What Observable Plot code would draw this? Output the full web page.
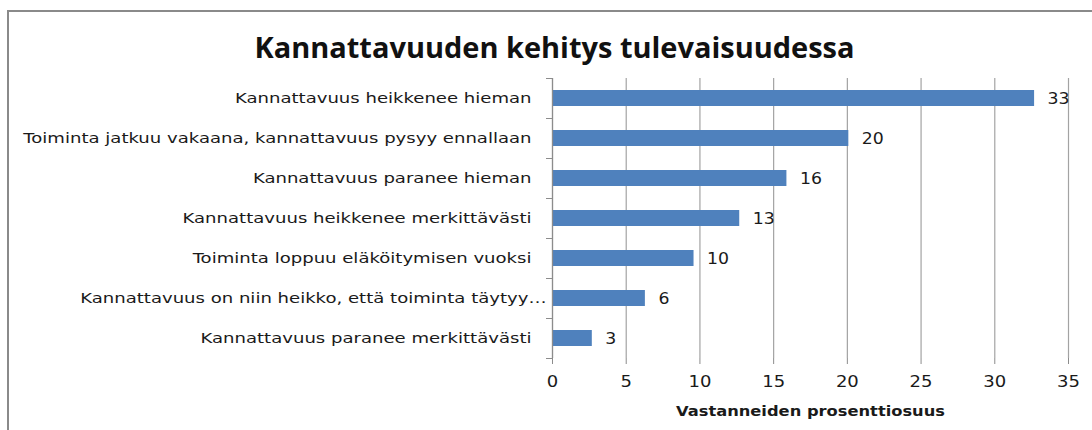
<!DOCTYPE html>
<html>
<head>
<meta charset="utf-8">
<script src="https://cdn.jsdelivr.net/npm/d3@7"></script>
<script src="https://cdn.jsdelivr.net/npm/@observablehq/plot@0.6"></script>
<style>
  html, body { margin: 0; padding: 0; background: #fff; }
  #wrap { position: relative; width: 1092px; height: 430px; overflow: hidden; background: #fff; }
  #frame { position: absolute; left: 7px; top: 10px; width: 1100px; height: 440px;
           border-top: 2px solid #8a8a8a; border-left: 2px solid #8a8a8a; box-sizing: border-box; }
  #chart { position: absolute; left: 0; top: 0; }
</style>
</head>
<body>
<div id="wrap">
  <div id="frame"></div>
  <div id="chart"></div>
</div>
<script>
const title = "Kannattavuuden kehitys tulevaisuudessa";
const categories = [
  "Kannattavuus heikkenee hieman",
  "Toiminta jatkuu vakaana, kannattavuus pysyy ennallaan",
  "Kannattavuus paranee hieman",
  "Kannattavuus heikkenee merkittävästi",
  "Toiminta loppuu eläköitymisen vuoksi",
  "Kannattavuus on niin heikko, että toiminta täytyy…",
  "Kannattavuus paranee merkittävästi"
];
const values = [32.7, 20.1, 15.9, 12.7, 9.6, 6.3, 2.7];
const xTicks = [0, 5, 10, 15, 20, 25, 30, 35];
const xLabel = "Vastanneiden prosenttiosuus";

const data = categories.map((c, i) => ({category: c, value: values[i]}));

const W = 1092, H = 430, mt = 78, mb = 72, ml = 552, mr = 24;
const step = (H - mt - mb) / categories.length;
const font = "DejaVu Sans, sans-serif";
const fmt = d3.format(".0f");

const chart = Plot.plot({
  width: W, height: H,
  marginTop: mt, marginBottom: mb, marginLeft: ml, marginRight: mr,
  style: {fontFamily: font, fontSize: "14px", color: "#1a1a1a", background: "transparent", overflow: "visible"},
  x: {domain: [0, 35]},
  y: {domain: categories, paddingInner: 0.61, paddingOuter: 0.305},
  marks: [
    Plot.gridX(xTicks, {stroke: "#a3a3a3", strokeOpacity: 1, strokeWidth: 1.2}),
    Plot.barX(data, {x: "value", y: "category", fill: "#4F81BD"}),
    Plot.ruleX([0], {stroke: "#8c8c8c", strokeWidth: 1.2}),
    Plot.ruleY([0], {frameAnchor: "bottom", stroke: "#8c8c8c", strokeWidth: 1.2}),
    Plot.axisX(xTicks, {tickSize: 6, tickPadding: 12, stroke: "#8c8c8c", fill: "#1a1a1a",
      fontSize: 15, label: null, tickFormat: d => String(d)}),
    Plot.text([xLabel], {frameAnchor: "bottom", dy: 57, text: d => d,
      fontWeight: "bold", fontSize: 14, fill: "#1a1a1a"}),
    Plot.text([title], {frameAnchor: "top", dx: 554 - (ml + (W - mr)) / 2, dy: -21, lineAnchor: "bottom",
      text: d => d, fontFamily: "Open Sans, sans-serif", fontWeight: "bold", fontSize: 29, fill: "#111"}),
    Plot.axisY({tickSize: 0, tickPadding: 21, fontSize: 14, fill: "#1a1a1a", label: null}),
    Plot.axisY(categories, {tickSize: 6, text: null, dy: -step / 2, stroke: "#8c8c8c", label: null}),
    Plot.axisY([categories[categories.length - 1]], {tickSize: 6, text: null, dy: step / 2, stroke: "#8c8c8c", label: null}),
    Plot.text(data, {x: "value", y: "category", text: d => fmt(d.value),
      textAnchor: "start", dx: 13, fontSize: 16, fill: "#1a1a1a"})
  ]
});
document.getElementById("chart").appendChild(chart);

// Horizontal stretch of the text, as in the reference rendering
const catSet = new Set(categories);
const tickSet = new Set(xTicks.map(String));
const valSet = new Set(values.map(fmt));
chart.querySelectorAll("text").forEach(t => {
  const s = t.textContent;
  let f = null, target = null;
  if (s === title) target = 600;
  else if (catSet.has(s)) {
    f = 1.29;
    if (s.endsWith("…")) t.setAttribute("dx", 15);
  }
  else if (s === xLabel) target = 269;
  else if (tickSet.has(s) && t.closest("[aria-label='x-axis tick label']")) f = 1.2;
  else if (valSet.has(s)) f = 1.08;
  if (f == null && target == null) return;
  const len = t.getComputedTextLength();
  t.setAttribute("textLength", target != null ? target : len * f);
  t.setAttribute("lengthAdjust", "spacingAndGlyphs");
});
</script>
</body>
</html>
